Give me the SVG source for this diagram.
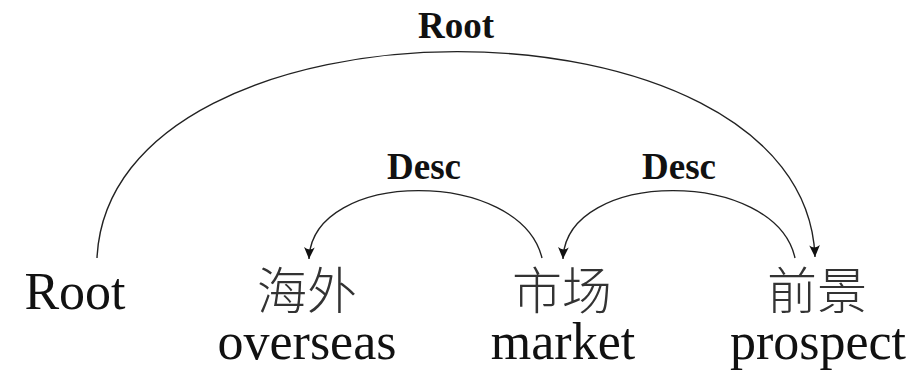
<svg xmlns="http://www.w3.org/2000/svg" width="915" height="374" viewBox="0 0 915 374">
  <style>
    .word { font-family: "Liberation Serif", "Times New Roman", serif; font-size: 52px; fill: #111; text-anchor: middle; }
    .han { font-family: "Noto Sans CJK SC", "Noto Sans CJK TC", sans-serif; font-size: 50px; font-weight: 300; fill: #333; text-anchor: middle; }
    .rel { font-family: "Liberation Serif", "Times New Roman", serif; font-size: 37px; font-weight: bold; fill: #111; text-anchor: middle; }
    .arc { fill: none; stroke: #222; stroke-width: 1.4; }
  </style>
  <defs>
    <marker id="head" markerUnits="userSpaceOnUse" markerWidth="16" markerHeight="16" viewBox="-13 -7 15 14" refX="0" refY="0" orient="auto">
      <path d="M0,0 L-11,-5 Q-7,0 -11,5 Z" fill="#111"/>
    </marker>
  </defs>

  <!-- dependency arcs -->
  <g id="connectors">
    <path class="arc" d="M97,258 C110,-17 805,-17 815,257" marker-end="url(#head)"/>
    <path class="arc" d="M542,258 C520,168 312,168 309,259" marker-end="url(#head)"/>
    <path class="arc" d="M795,258 C775,168 566,168 563,259" marker-end="url(#head)"/>
  </g>

  <!-- arc labels -->
  <g id="labels">
    <text class="rel" x="456" y="38">Root</text>
    <text class="rel" x="424" y="179">Desc</text>
    <text class="rel" x="679" y="179">Desc</text>
  </g>

  <!-- tokens -->
  <g id="node-root">
    <text class="word" x="75" y="309">Root</text>
  </g>
  <g id="node-overseas">
    <text class="han" x="307" y="309">海外</text>
    <text class="word" x="307" y="359">overseas</text>
  </g>
  <g id="node-market">
    <text class="han" x="562" y="309">市场</text>
    <text class="word" x="563" y="359">market</text>
  </g>
  <g id="node-prospect">
    <text class="han" x="817" y="309">前景</text>
    <text class="word" x="818" y="359">prospect</text>
  </g>
</svg>
